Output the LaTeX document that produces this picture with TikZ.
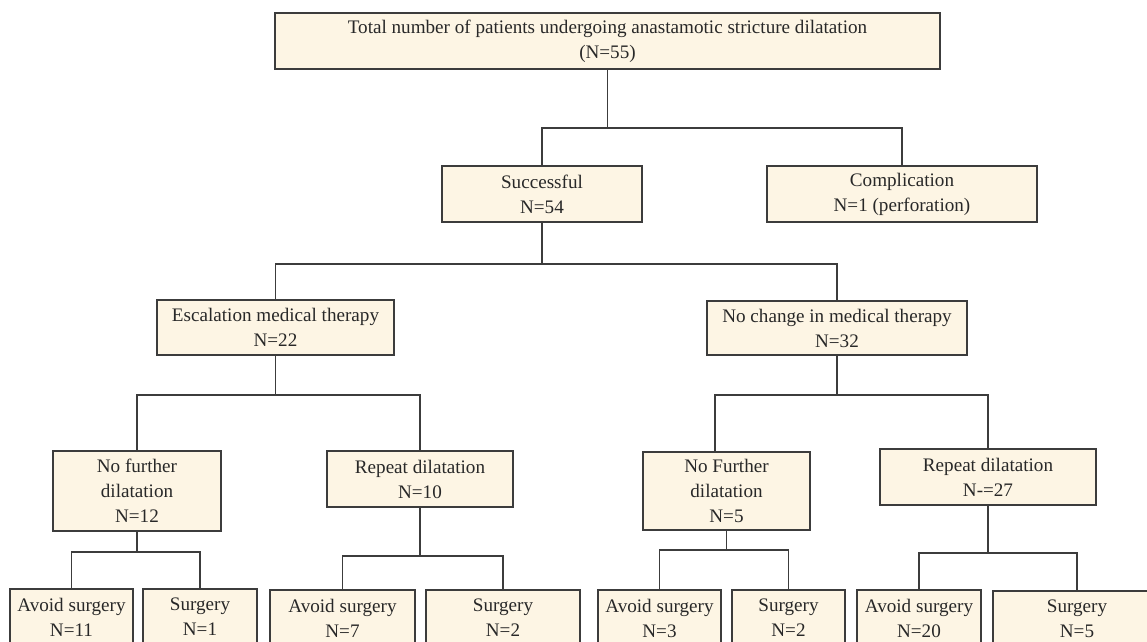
\documentclass[tikz,border=0pt]{standalone}
\usepackage{fontspec}
\setmainfont{Liberation Serif}
\usepackage{tikz}
\usetikzlibrary{positioning,calc}
\definecolor{boxfill}{RGB}{253,245,228}
\definecolor{boxline}{RGB}{60,60,60}
\definecolor{textgray}{RGB}{40,40,40}

\begin{document}
\begin{tikzpicture}[
    x=0.025cm, y=-0.025cm,
    flowbox/.style={draw=boxline, line width=0.9pt, fill=boxfill, align=center, text=textgray, font=\fontsize{13.6}{17.8}\selectfont, inner sep=2pt, minimum height=1.4cm},
    link/.style={draw=boxline, line width=0.9pt}
]
\useasboundingbox (0,0) rectangle (1147,641);

% ==================== TOP ====================
\node[flowbox, minimum width=16.625cm] (total) at (607.5,41) {Total number of patients undergoing anastamotic stricture dilatation\\(N=55)};

% ==================== FIRST SPLIT ====================
\node[flowbox, minimum width=5cm] (succ) at (542,194) {Successful\\N=54};
\node[flowbox, minimum width=6.75cm] (comp) at (902,194) {Complication\\N=1 (perforation)};

% ==================== MEDICAL THERAPY ====================
\node[flowbox, minimum width=5.925cm, minimum height=1.375cm] (esc) at (275.5,327.5) {Escalation medical therapy\\N=22};
\node[flowbox, minimum width=6.5cm, minimum height=1.35cm] (nochg) at (837,328) {No change in medical therapy\\N=32};

% ==================== DILATATION ====================
\node[flowbox, minimum width=4.2cm, minimum height=2cm] (nofur1) at (137,491) {No further\\dilatation\\N=12};
\node[flowbox, minimum width=4.65cm] (rep1) at (420,479) {Repeat dilatation\\N=10};
\node[flowbox, minimum width=4.175cm, minimum height=1.95cm] (nofur2) at (726.5,491) {No Further\\dilatation\\N=5};
\node[flowbox, minimum width=5.4cm] (rep2) at (988,477) {Repeat dilatation\\N-=27};

% ==================== OUTCOME ====================
\node[flowbox, minimum width=3.075cm] (a1) at (71.5,617) {Avoid surgery\\N=11};
\node[flowbox, minimum width=2.85cm] (s1) at (200,617) {Surgery\\N=1};
\node[flowbox, minimum width=3.625cm] (a2) at (342.5,618) {Avoid surgery\\N=7};
\node[flowbox, minimum width=3.85cm] (s2) at (503,618) {Surgery\\N=2};
\node[flowbox, minimum width=3.075cm] (a3) at (659.5,618) {Avoid surgery\\N=3};
\node[flowbox, minimum width=2.825cm] (s3) at (788.5,618) {Surgery\\N=2};
\node[flowbox, minimum width=3.1cm] (a4) at (919,618) {Avoid surgery\\N=20};
\node[flowbox, minimum width=4.2cm] (s4) at (1077,619) {Surgery\\N=5};

% ==================== CONNECTORS ====================
\coordinate (j0) at (607.5,128);
\draw[link] (total.south) -- (j0);
\draw[link] (succ.north) |- (j0) -| (comp.north);

\coordinate (j1) at (542,264);
\draw[link] (succ.south) -- (j1);
\draw[link] (esc.north) |- (j1) -| (nochg.north);

\coordinate (j2) at (275.5,395);
\draw[link] (esc.south) -- (j2);
\draw[link] (nofur1.north) |- (j2) -| (rep1.north);

\coordinate (j3) at (837,395);
\draw[link] (nochg.south) -- (j3);
\draw[link] ($(nofur2.north)+(-11.5,0)$) |- (j3) -| (rep2.north);

% outcome branches
\coordinate (j4) at (137,552);
\draw[link] (nofur1.south) -- (j4);
\draw[link] (a1.north) |- (j4) -| (s1.north);

\coordinate (j5) at (420,556);
\draw[link] (rep1.south) -- (j5);
\draw[link] (a2.north) |- (j5) -| (s2.north);

\coordinate (j6) at (726.5,550);
\draw[link] (nofur2.south) -- (j6);
\draw[link] (a3.north) |- (j6) -| (s3.north);

\coordinate (j7) at (988,553);
\draw[link] (rep2.south) -- (j7);
\draw[link] (a4.north) |- (j7) -| (s4.north);

\end{tikzpicture}
\end{document}
